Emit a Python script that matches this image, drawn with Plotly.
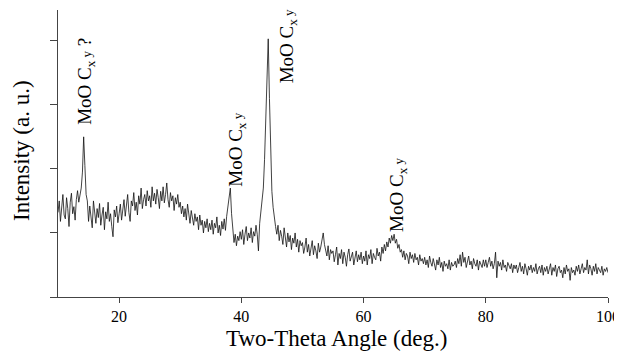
import plotly.graph_objects as go

# Two-theta grid start/step (deg) and intensity readings (a.u.), 0.2 deg apart
TWO_THETA_START = 10.0
TWO_THETA_STEP = 0.2
intensity = [
    # 10.0 - 14.8
    132, 150, 118, 145, 160, 128, 122, 155, 138, 110, 148, 162, 130, 141, 120, 152, 166, 148, 158, 170, 195, 250, 205, 160, 150,
    # 15.0 - 19.8
    118, 142, 126, 108, 150, 132, 115, 138, 124, 146, 112, 128, 140, 105, 133, 122, 148, 118, 130, 110, 94, 136, 125, 142, 116,
    # 20.0 - 24.8
    130, 145, 120, 138, 152, 126, 140, 160, 132, 118, 150, 142, 163, 135, 148, 128, 158, 145, 170, 138, 152, 160, 142, 166, 150,
    # 25.0 - 29.8
    158, 140, 172, 150, 162, 145, 168, 155, 138, 165, 150, 172, 147, 160, 178, 152, 140, 163, 150, 158, 135, 155, 145, 160, 140,
    # 30.0 - 34.8
    148, 130, 142, 125, 138, 120, 145, 128, 115, 135, 122, 112, 130, 118, 125, 105, 128, 112, 120, 100, 118, 108, 122, 102, 115,
    # 35.0 - 39.8
    105, 120, 98, 115, 108, 125, 100, 112, 96, 118, 106, 122, 104, 126, 140, 158, 170, 130, 100, 85, 98, 80, 95, 88, 102,
    # 40.0 - 44.8
    90, 105, 82, 98, 110, 88, 100, 92, 108, 85, 102, 95, 112, 98, 72, 115, 135, 150, 170, 215, 290, 370, 403, 310, 220,
    # 45.0 - 49.8
    165, 140, 122, 110, 98, 112, 88, 104, 95, 82, 108, 90, 78, 100, 86, 96, 74, 92, 84, 100, 78, 90, 70, 88, 80,
    # 50.0 - 54.8
    85, 68, 78, 92, 70, 82, 64, 76, 88, 66, 80, 72, 60, 84, 70, 78, 90, 100, 82, 72, 64, 80, 58, 74, 68,
    # 55.0 - 59.8
    72, 55, 66, 78, 50, 68, 60, 74, 52, 70, 62, 48, 66, 75, 56, 64, 70, 50, 62, 72, 55, 66, 58, 70, 52,
    # 60.0 - 64.8
    64, 56, 72, 50, 66, 60, 74, 52, 68, 62, 58, 76, 64, 70, 56, 78, 68, 82, 72, 86, 78, 92, 84, 96, 88,
    # 65.0 - 69.8
    98, 84, 90, 76, 82, 70, 74, 62, 72, 58, 68, 64, 52, 70, 60, 66, 54, 68, 58, 62, 50, 66, 56, 60, 52,
    # 70.0 - 74.8
    62, 50, 58, 46, 64, 54, 48, 60, 52, 42, 58, 50, 62, 46, 54, 40, 56, 48, 52, 44, 58, 42, 54, 48, 50,
    # 75.0 - 79.8
    56, 46, 60, 52, 66, 48, 70, 54, 62, 46, 58, 64, 50, 56, 44, 60, 52, 48, 58, 42, 56, 50, 46, 58, 48,
    # 80.0 - 84.8
    58, 46, 54, 62, 48, 56, 44, 52, 70, 30, 56, 48, 54, 42, 58, 46, 50, 40, 54, 48, 44, 52, 38, 50, 44,
    # 85.0 - 89.8
    50, 38, 46, 54, 40, 48, 36, 52, 44, 34, 48, 42, 50, 38, 46, 40, 52, 36, 44, 48, 38, 50, 34, 46, 40,
    # 90.0 - 94.8
    48, 36, 44, 52, 34, 46, 40, 50, 32, 44, 48, 38, 42, 30, 46, 36, 50, 40, 44, 26, 46, 38, 42, 34, 48,
    # 95.0 - 100.0
    40, 50, 36, 44, 52, 38, 46, 42, 58, 36, 50, 44, 34, 48, 40, 52, 36, 46, 42, 38, 48, 34, 44, 40, 46, 38,
]
two_theta = [round(TWO_THETA_START + i * TWO_THETA_STEP, 2) for i in range(len(intensity))]

x_ticks = [20, 40, 60, 80, 100]
y_ticks = [0, 100, 200, 300, 400]

x_title = "Two-Theta Angle (deg.)"
y_title = "Intensity (a. u.)"

# Peak labels
SUB = "MoO C<sub>x</sub><span style='font-size:13px'> y</span>"
label_text = [SUB + " ?", SUB, SUB, SUB]
label_x = [14.6, 39.3, 47.55, 65.6]
label_y = [336, 230, 392, 159]

FONT = "Liberation Serif, Times New Roman, serif"

fig = go.Figure()
fig.add_trace(go.Scatter(
    x=two_theta, y=intensity, mode="lines",
    line=dict(color="#111111", width=0.8),
    showlegend=False, hoverinfo="skip",
))

for t, lx, ly in zip(label_text, label_x, label_y):
    fig.add_annotation(
        x=lx, y=ly, xref="x", yref="y", text=t, showarrow=False,
        textangle=-90, font=dict(family=FONT, size=19, color="black"),
        xanchor="center", yanchor="middle",
    )

# Axis titles
fig.add_annotation(
    x=0.5055, y=0, xref="paper", yref="paper", yshift=-41, text=x_title,
    showarrow=False, font=dict(family=FONT, size=23, color="black"),
    xanchor="center", yanchor="middle",
)
fig.add_annotation(
    x=0, y=0.509, xref="paper", yref="paper", xshift=-36, text=y_title,
    showarrow=False, textangle=-90, font=dict(family=FONT, size=23, color="black"),
    xanchor="center", yanchor="middle",
)

# The page body adds an 8px offset, so the figure is 8px smaller on each axis
fig.update_layout(
    width=614, height=343,
    margin=dict(l=50, r=14, t=2, b=54),
    paper_bgcolor="white", plot_bgcolor="white",
    font=dict(family=FONT, color="black"),
)
fig.update_xaxes(
    range=[10, 100], tickvals=x_ticks, ticktext=[str(v) for v in x_ticks],
    showgrid=False, zeroline=False, showline=True, linecolor="#444444", linewidth=1,
    ticks="outside", ticklen=5, tickcolor="#444444", tickfont=dict(size=16, family=FONT),
    automargin=False,
)
fig.update_yaxes(
    range=[0, 448], tickvals=y_ticks, showticklabels=False,
    showgrid=False, zeroline=False, showline=True, linecolor="#444444", linewidth=1,
    ticks="outside", ticklen=7, tickcolor="#444444",
    automargin=False,
)

fig.write_html("out.html")
